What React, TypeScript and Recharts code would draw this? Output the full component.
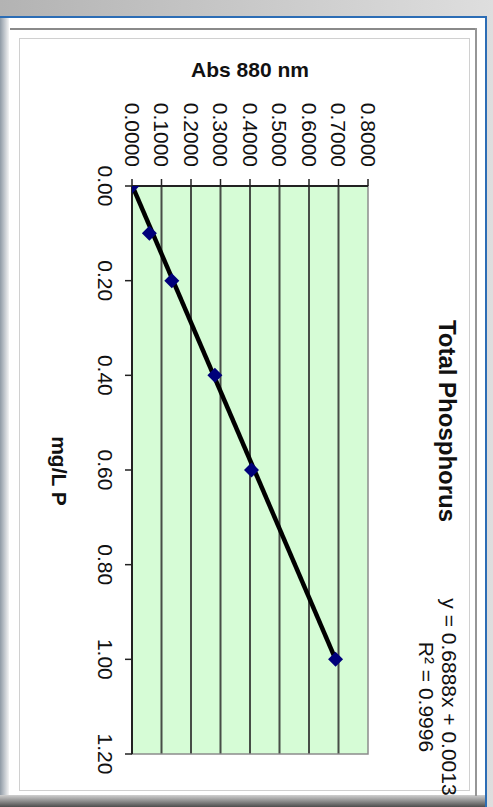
import React from 'react';
import { ComposedChart, Scatter, Line, XAxis, YAxis, CartesianGrid, ReferenceArea } from 'recharts';

const concentrations = [0, 0.1, 0.2, 0.4, 0.6, 1.0];
const absorbances = [0.0, 0.059, 0.135, 0.281, 0.405, 0.69];
const trendX = [0, 1.0];
const trendY = [0.0013, 0.6901];
const xTicks = [0, 0.2, 0.4, 0.6, 0.8, 1.0, 1.2];
const yTicks = [0, 0.1, 0.2, 0.3, 0.4, 0.5, 0.6, 0.7, 0.8];
const titleText = 'Total Phosphorus';
const xTitle = 'mg/L P';
const yTitle = 'Abs 880 nm';
const eqLine1 = 'y = 0.6888x + 0.0013';
const eqLine2 = 'R² = 0.9996';

const points = concentrations.map((x, i) => ({ x, y: absorbances[i] }));
const trend = trendX.map((x, i) => ({ x, y: trendY[i] }));

const FONT = '"Liberation Sans", Arial, Helvetica, sans-serif';

const Diamond = (props: any) => {
  const { cx, cy } = props;
  if (cx == null || cy == null) return null;
  const r = 7.5;
  return (
    <polygon
      points={`${cx},${cy - r} ${cx + r},${cy} ${cx},${cy + r} ${cx - r},${cy}`}
      fill="#00007a"
    />
  );
};

const W = 752;
const H = 450;

export default function App() {
  return (
    <div
      style={{
        position: 'fixed',
        left: 0,
        top: 0,
        width: 493,
        height: 807,
        overflow: 'hidden',
        background: 'linear-gradient(to right, #b3b3b3, #dedede)',
        fontFamily: FONT,
      }}
    >
      <div
        style={{
          position: 'absolute',
          left: -2,
          top: 16,
          width: 489,
          height: 800,
          boxSizing: 'border-box',
          border: '2px solid #2c6db5',
          background: '#ffffff',
        }}
      />
      <div
        style={{
          position: 'absolute',
          left: 0,
          top: 18,
          width: 9,
          height: 789,
          background: 'linear-gradient(to right, #8f9aa5, #f4f4f4)',
        }}
      />
      <div
        style={{
          position: 'absolute',
          left: 0,
          top: 795,
          width: 485,
          height: 12,
          background: 'linear-gradient(to bottom, #d0d0d0, #4e4e4e)',
        }}
      />
      <div style={{ position: 'absolute', left: 10, top: 28, width: 467, height: 2, background: '#8a8a8a' }} />
      <div style={{ position: 'absolute', left: 475, top: 28, width: 2, height: 768, background: '#969696' }} />
      <div
        style={{
          position: 'absolute',
          left: 19,
          top: 38,
          width: 451,
          height: 753,
          boxSizing: 'border-box',
          border: '1px solid #d0d0d0',
          background: '#ffffff',
        }}
      />
      <div
        style={{
          position: 'absolute',
          left: 19,
          top: 38,
          width: W,
          height: H,
          transformOrigin: '0 0',
          transform: `translateX(${H}px) rotate(90deg)`,
        }}
      >
        <ComposedChart
          width={W}
          height={H}
          margin={{ top: 101, right: 36, bottom: 0, left: 0 }}
          style={{ fontFamily: FONT }}
        >
          <CartesianGrid
            vertical={false}
            horizontal={true}
            horizontalValues={yTicks.slice(1, -1)}
            stroke="#2e2e2e"
            strokeWidth={2}
            strokeOpacity={0.85}
            fill="#d6fcd6"
            fillOpacity={1}
          />
          <ReferenceArea x1={0} x2={1.2} y1={0} y2={0.8} fill="none" stroke="#8c8c8c" strokeWidth={1.5} ifOverflow="visible" />
          <XAxis
            dataKey="x"
            type="number"
            domain={[0, 1.2]}
            ticks={xTicks}
            interval={0}
            allowDataOverflow
            tickFormatter={(v: number) => v.toFixed(2)}
            height={113}
            tickSize={7}
            tickMargin={12}
            axisLine={{ stroke: '#222', strokeWidth: 2 }}
            tickLine={{ stroke: '#222', strokeWidth: 1.5 }}
            tick={{ fill: '#111', fontSize: 21, fontFamily: FONT }}
          />
          <YAxis
            dataKey="y"
            type="number"
            domain={[0, 0.8]}
            ticks={yTicks}
            interval={0}
            allowDataOverflow
            tickFormatter={(v: number) => v.toFixed(4)}
            width={148}
            tickSize={7}
            tickMargin={12}
            axisLine={{ stroke: '#222', strokeWidth: 2 }}
            tickLine={{ stroke: '#222', strokeWidth: 1.5 }}
            tick={{ fill: '#111', fontSize: 21, fontFamily: FONT }}
          />
          <Scatter data={points} dataKey="y" shape={Diamond} isAnimationActive={false} />
          <Line
            data={trend}
            dataKey="y"
            type="linear"
            stroke="#000000"
            strokeWidth={4.5}
            dot={false}
            activeDot={false}
            isAnimationActive={false}
          />
        </ComposedChart>
        <div
          style={{
            position: 'absolute',
            left: 183,
            top: 10,
            width: 400,
            textAlign: 'center',
            fontSize: 24,
            lineHeight: '24px',
            fontWeight: 'bold',
            color: '#111',
            whiteSpace: 'nowrap',
          }}
        >
          {titleText}
        </div>
        <div
          style={{
            position: 'absolute',
            left: 459,
            top: 8,
            width: 400,
            textAlign: 'center',
            fontSize: 21,
            lineHeight: '23px',
            color: '#111',
            whiteSpace: 'nowrap',
          }}
        >
          <div>{eqLine1}</div>
          <div>{eqLine2}</div>
        </div>
        <div
          style={{
            position: 'absolute',
            left: 32 - 100,
            top: 219 - 12,
            width: 200,
            height: 24,
            textAlign: 'center',
            fontSize: 21,
            lineHeight: '24px',
            fontWeight: 'bold',
            color: '#111',
            transform: 'rotate(-90deg)',
            whiteSpace: 'nowrap',
          }}
        >
          {yTitle}
        </div>
        <div
          style={{
            position: 'absolute',
            left: 433 - 100,
            top: 410 - 12,
            width: 200,
            height: 24,
            textAlign: 'center',
            fontSize: 21,
            lineHeight: '24px',
            fontWeight: 'bold',
            color: '#111',
            whiteSpace: 'nowrap',
          }}
        >
          {xTitle}
        </div>
      </div>
    </div>
  );
}
